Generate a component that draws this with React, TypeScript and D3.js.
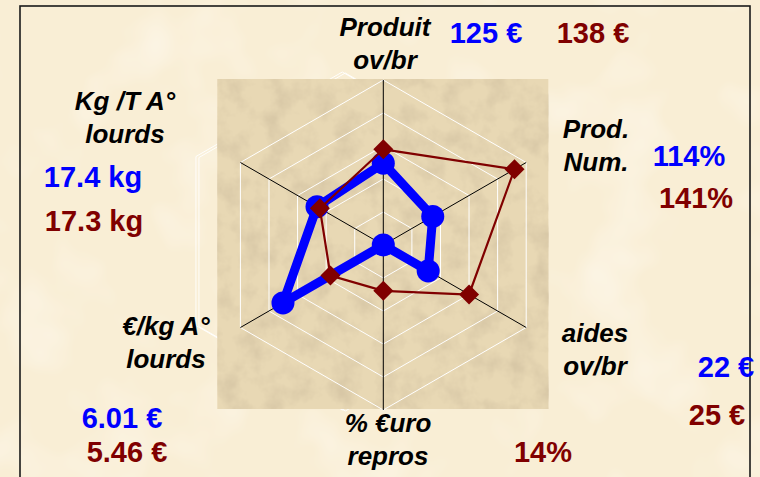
import * as d3 from "d3";

// chart frame
const W = 760;
const H = 477;
const CX = 383.3;
const CY = 245;
const R = 165;
const FONT = '"Liberation Sans", Arial, Helvetica, sans-serif';
const BLUE = "#0000ff";
const RED = "#800000";

// data, clockwise from the top axis
const AXES = [
  ["Produit", "ov/br"],
  ["Prod.", "Num."],
  ["aides", "ov/br"],
  ["% €uro", "repros"],
  ["€/kg A°", "lourds"],
  ["Kg /T A°", "lourds"],
];
const RING_TICKS = [1, 2, 3, 4, 5];
const BLUE_VALUES = [2.48, 1.73, 1.57, 0, 3.51, 2.32];
const RED_VALUES = [2.9, 4.59, 3.0, 1.39, 1.85, 2.22];
const BLUE_TEXT = ["125 €", "114%", "22 €", "", "6.01 €", "17.4 kg"];
const RED_TEXT = ["138 €", "141%", "25 €", "14%", "5.46 €", "17.3 kg"];

// where the text blocks sit (layout, not data)
const AXIS_POS = [
  [385, 36],
  [596, 138],
  [595, 342],
  [388, 432],
  [166, 335],
  [125, 110],
];
const BLUE_POS = [
  [486, 43],
  [689, 166],
  [726, 377],
  null,
  [122, 428],
  [93, 187],
];
const RED_POS = [
  [593, 43],
  [696, 208],
  [717, 425],
  [543, 462],
  [127, 462],
  [94, 231],
];

const r = d3.scaleLinear().domain([0, 5]).range([0, R]);
const angle = d3
  .scaleLinear()
  .domain([0, AXES.length])
  .range([0, 2 * Math.PI]);

const radial = d3
  .lineRadial<number>()
  .angle((_, i) => angle(i))
  .radius((v) => r(v))
  .curve(d3.curveLinearClosed);

function ringPath(value: number) {
  return radial(AXES.map(() => value)) ?? "";
}

const diamond = d3.symbol(d3.symbolSquare, 200)();

export default function App() {
  const ghost = d3
    .lineRadial<number>()
    .angle((_, i) => angle(i))
    .radius(() => 169)
    .curve(d3.curveLinearClosed)(AXES.map(() => 0)) ?? "";

  return (
    <div style={{ position: "fixed", left: 0, top: 0 }}>
      <svg width={W} height={H} style={{ display: "block" }}>
        <defs>
          <filter id="paper" x="0" y="0" width="100%" height="100%">
            <feTurbulence type="fractalNoise" baseFrequency="0.012" numOctaves="3" seed="4" />
            <feColorMatrix
              type="matrix"
              values="0 0 0 0 1  0 0 0 0 0.98  0 0 0 0 0.94  0 0 0 1.2 -0.6"
            />
          </filter>
          <filter id="parch" x="0" y="0" width="100%" height="100%">
            <feTurbulence type="fractalNoise" baseFrequency="0.045" numOctaves="4" seed="9" />
            <feColorMatrix
              type="matrix"
              values="0 0 0 0 0.55  0 0 0 0 0.45  0 0 0 0 0.3  0 0 0 0.9 -0.36"
            />
          </filter>
        </defs>

        <rect width={W} height={H} fill="#f9eed5" />
        <rect width={W} height={H} fill="#fff" filter="url(#paper)" />

        {/* faint doubled outline behind the panel */}
        <g fill="none" stroke="#fff" strokeOpacity={0.9} strokeWidth={1}>
          <path d={ghost} transform={`translate(${CX - 41},${CY - 4})`} />
          <path d={ghost} transform={`translate(${CX - 38},${CY - 3})`} />
        </g>

        <rect x={CX - R - 1} y={CY - R - 1} width={2 * R + 1} height={2 * R} fill="#e8d8b4" />
        <rect
          x={CX - R - 1}
          y={CY - R - 1}
          width={2 * R + 1}
          height={2 * R}
          fill="#000"
          filter="url(#parch)"
        />

        <g transform={`translate(${CX},${CY})`}>
          {RING_TICKS.map((t) => (
            <path key={t} d={ringPath(t)} fill="none" stroke="#fff" strokeWidth={1} />
          ))}
          {AXES.map((_, i) => {
            const [x, y] = d3.pointRadial(angle(i), r(5));
            return <line key={i} x1={0} y1={0} x2={x} y2={y} stroke="#000" strokeWidth={1} />;
          })}

          <path
            d={radial(BLUE_VALUES) ?? ""}
            fill="none"
            stroke={BLUE}
            strokeWidth={9}
            strokeLinejoin="round"
          />
          {BLUE_VALUES.map((v, i) => {
            const [x, y] = d3.pointRadial(angle(i), r(v));
            return <circle key={i} cx={x} cy={y} r={11.5} fill={BLUE} />;
          })}

          <path d={radial(RED_VALUES) ?? ""} fill="none" stroke={RED} strokeWidth={2.2} />
          {RED_VALUES.map((v, i) => {
            const [x, y] = d3.pointRadial(angle(i), r(v));
            return (
              <path
                key={i}
                d={diamond ?? ""}
                transform={`translate(${x},${y}) rotate(45)`}
                fill={RED}
              />
            );
          })}
        </g>

        <rect x={20} y={6} width={730} height={H} fill="none" stroke="#1a1a1a" strokeWidth={1.6} />

        <g fontFamily={FONT} fontWeight="bold" textAnchor="middle">
          {AXES.map((lines, i) => (
            <text
              key={i}
              x={AXIS_POS[i][0]}
              y={AXIS_POS[i][1]}
              fontSize={26}
              fontStyle="italic"
              fill="#000"
            >
              {lines.map((ln, j) => (
                <tspan key={j} x={AXIS_POS[i][0]} dy={j === 0 ? 0 : 33}>
                  {ln}
                </tspan>
              ))}
            </text>
          ))}
          {BLUE_TEXT.map((s, i) => {
            const p = BLUE_POS[i];
            if (!s || !p) return null;
            return (
              <text key={i} x={p[0]} y={p[1]} fontSize={29} fill={BLUE}>
                {s}
              </text>
            );
          })}
          {RED_TEXT.map((s, i) => (
            <text key={i} x={RED_POS[i][0]} y={RED_POS[i][1]} fontSize={29} fill={RED}>
              {s}
            </text>
          ))}
        </g>
      </svg>
    </div>
  );
}
